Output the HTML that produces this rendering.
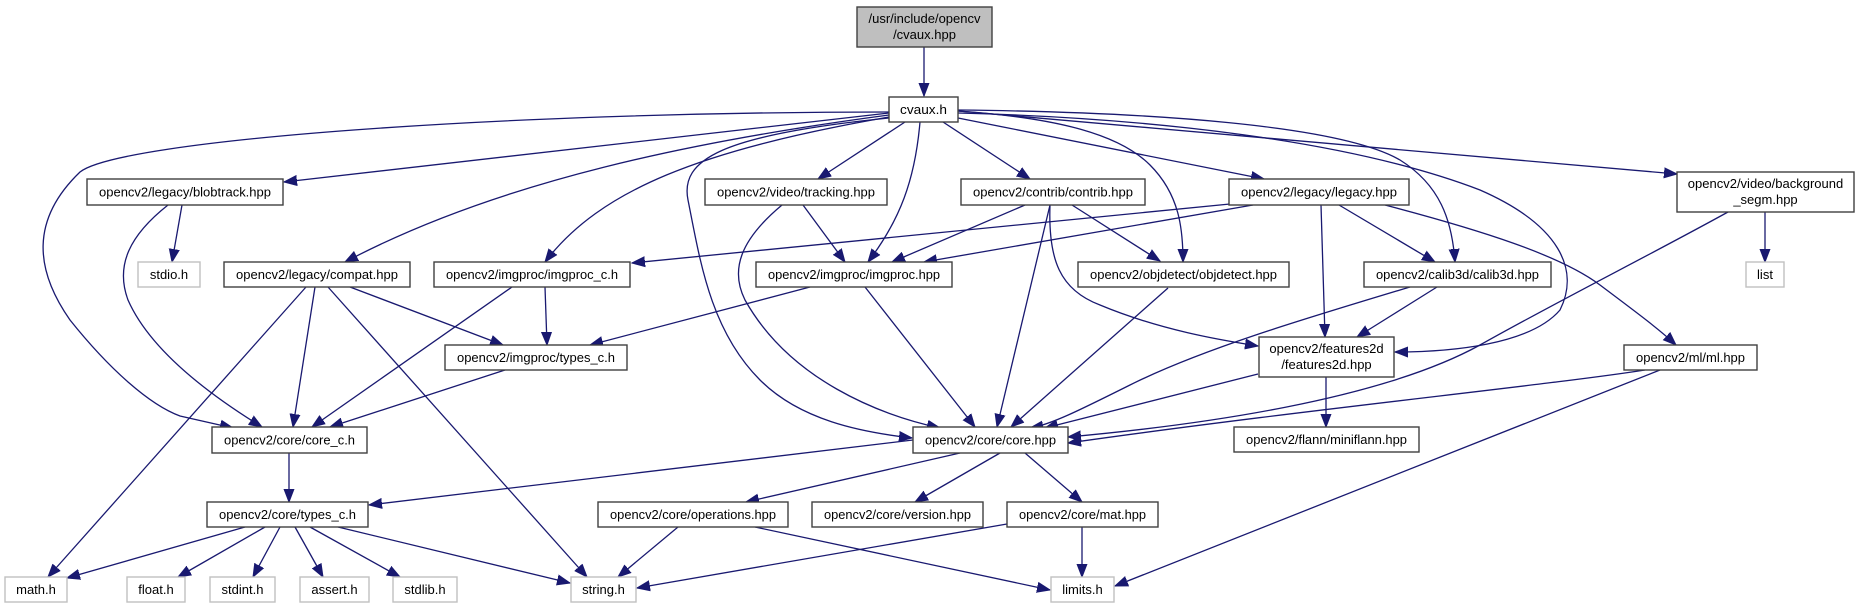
<!DOCTYPE html>
<html><head><meta charset="utf-8"><style>
html,body{margin:0;padding:0;background:#fff;}
svg{display:block;}
text{font-family:"Liberation Sans",Arial,sans-serif;font-size:13px;fill:#000;}
.e{fill:none;stroke:#191970;stroke-width:1.3;marker-end:url(#a);}
.n{fill:#fff;stroke:#404040;stroke-width:1.4;}
.g{fill:#fff;stroke:#c0c0c0;stroke-width:1.4;}
</style></head><body>
<svg width="1859" height="608" viewBox="0 0 1859 608" xmlns="http://www.w3.org/2000/svg">
<defs>
<marker id="a" markerUnits="userSpaceOnUse" markerWidth="14" markerHeight="12" viewBox="0 0 14 12" refX="13" refY="6" orient="auto">
<path d="M0,1 L13,6 L0,11 Z" fill="#191970" stroke="#191970" stroke-width="1"/>
</marker>
</defs>
<!-- edges -->
<path class="e" d="M924,47 L924,96"/>
<path class="e" d="M889,112 C500,112 120,140 80,172 C30,220 35,270 70,320 C110,370 150,405 180,416 L233,428"/>
<path class="e" d="M889,113 L284,182"/>
<path class="e" d="M889,115 C700,140 500,180 345,262"/>
<path class="e" d="M889,117 C700,150 600,190 545,262"/>
<path class="e" d="M889,118 C720,135 680,160 688,200 C700,260 710,330 760,380 C800,420 860,432 912,438"/>
<path class="e" d="M782,205 C740,240 730,270 745,300 C790,380 880,415 940,428"/>
<path class="e" d="M803,205 L845,262"/>
<path class="e" d="M920,122 C915,180 900,220 868,262"/>
<path class="e" d="M905,122 L818,179"/>
<path class="e" d="M943,122 L1030,179"/>
<path class="e" d="M1025,205 L892,262"/>
<path class="e" d="M1253,205 L924,262"/>
<path class="e" d="M1230,204 L632,263"/>
<path class="e" d="M1072,205 L1160,261"/>
<path class="e" d="M958,111 C1060,118 1120,135 1150,165 C1180,195 1183,230 1183,262"/>
<path class="e" d="M1050,205 L997,427"/>
<path class="e" d="M1050,205 C1048,260 1060,290 1100,305 C1160,330 1220,340 1258,346"/>
<path class="e" d="M1168,288 L1011,427"/>
<path class="e" d="M1321,205 L1325,337"/>
<path class="e" d="M1339,205 L1435,262"/>
<path class="e" d="M1385,205 C1480,230 1560,255 1600,285 C1640,315 1660,330 1676,345"/>
<path class="e" d="M958,110 C1150,112 1340,125 1400,160 C1440,185 1452,220 1455,262"/>
<path class="e" d="M958,113 C1150,118 1350,140 1480,190 C1560,225 1580,270 1560,310 C1530,345 1450,352 1395,352"/>
<path class="e" d="M958,118 L1264,179"/>
<path class="e" d="M958,111 L1677,174"/>
<path class="e" d="M1728,212 C1650,255 1560,300 1480,345 C1380,400 1200,425 1068,437"/>
<path class="e" d="M1765,212 L1765,262"/>
<path class="e" d="M1410,287 C1300,320 1200,350 1130,385 C1080,410 1050,425 1030,428"/>
<path class="e" d="M1437,287 L1357,337"/>
<path class="e" d="M1258,374 L1045,428"/>
<path class="e" d="M1326,377 L1326,427"/>
<path class="e" d="M1645,370 C1550,385 1300,410 1068,443"/>
<path class="e" d="M1660,370 L1115,586"/>
<path class="e" d="M545,287 L547,345"/>
<path class="e" d="M512,287 L312,427"/>
<path class="e" d="M350,287 L503,345"/>
<path class="e" d="M315,287 L293,427"/>
<path class="e" d="M306,287 L48,577"/>
<path class="e" d="M328,287 L587,577"/>
<path class="e" d="M810,287 L590,345"/>
<path class="e" d="M865,287 L975,427"/>
<path class="e" d="M505,370 L330,427"/>
<path class="e" d="M182,205 L172,262"/>
<path class="e" d="M168,205 C130,235 115,265 128,300 C150,350 210,395 262,427"/>
<path class="e" d="M289,453 L289,502"/>
<path class="e" d="M913,440 L369,505"/>
<path class="e" d="M960,453 L746,502"/>
<path class="e" d="M1000,453 L915,502"/>
<path class="e" d="M1025,453 L1082,502"/>
<path class="e" d="M678,527 L618,577"/>
<path class="e" d="M755,527 L1050,590"/>
<path class="e" d="M1007,524 L637,588"/>
<path class="e" d="M1082,527 L1082,577"/>
<path class="e" d="M245,527 L67,578"/>
<path class="e" d="M265,527 L178,577"/>
<path class="e" d="M280,527 L253,577"/>
<path class="e" d="M295,527 L323,577"/>
<path class="e" d="M310,527 L400,577"/>
<path class="e" d="M338,527 L570,583"/>
<!-- nodes -->
<rect x="857" y="7" width="135" height="40" fill="#bfbfbf" stroke="#404040" stroke-width="1.4"/>
<text x="924.5" y="23" text-anchor="middle">/usr/include/opencv</text>
<text x="924.5" y="39" text-anchor="middle">/cvaux.hpp</text>

<rect class="n" x="889" y="97" width="69" height="25"/><text x="923.5" y="114" text-anchor="middle" textLength="47" lengthAdjust="spacingAndGlyphs">cvaux.h</text>

<rect class="n" x="87" y="179" width="196" height="26"/><text x="185" y="196.5" text-anchor="middle" textLength="172" lengthAdjust="spacingAndGlyphs">opencv2/legacy/blobtrack.hpp</text>
<rect class="n" x="705" y="179" width="182" height="26"/><text x="796" y="196.5" text-anchor="middle" textLength="158" lengthAdjust="spacingAndGlyphs">opencv2/video/tracking.hpp</text>
<rect class="n" x="961" y="179" width="184" height="26"/><text x="1053" y="196.5" text-anchor="middle" textLength="160" lengthAdjust="spacingAndGlyphs">opencv2/contrib/contrib.hpp</text>
<rect class="n" x="1229" y="179" width="180" height="26"/><text x="1319" y="196.5" text-anchor="middle" textLength="156" lengthAdjust="spacingAndGlyphs">opencv2/legacy/legacy.hpp</text>
<rect class="n" x="1677" y="172" width="177" height="40"/>
<text x="1765.5" y="188" text-anchor="middle">opencv2/video/background</text>
<text x="1765.5" y="204" text-anchor="middle">_segm.hpp</text>

<rect class="g" x="138" y="262" width="62" height="25"/><text x="169" y="279" text-anchor="middle">stdio.h</text>
<rect class="n" x="224" y="262" width="186" height="25"/><text x="317" y="279" text-anchor="middle" textLength="162" lengthAdjust="spacingAndGlyphs">opencv2/legacy/compat.hpp</text>
<rect class="n" x="434" y="262" width="196" height="25"/><text x="532" y="279" text-anchor="middle" textLength="172" lengthAdjust="spacingAndGlyphs">opencv2/imgproc/imgproc_c.h</text>
<rect class="n" x="756" y="262" width="196" height="25"/><text x="854" y="279" text-anchor="middle" textLength="172" lengthAdjust="spacingAndGlyphs">opencv2/imgproc/imgproc.hpp</text>
<rect class="n" x="1078" y="262" width="211" height="25"/><text x="1183.5" y="279" text-anchor="middle" textLength="187" lengthAdjust="spacingAndGlyphs">opencv2/objdetect/objdetect.hpp</text>
<rect class="n" x="1364" y="262" width="187" height="25"/><text x="1457.5" y="279" text-anchor="middle" textLength="163" lengthAdjust="spacingAndGlyphs">opencv2/calib3d/calib3d.hpp</text>
<rect class="g" x="1746" y="262" width="38" height="25"/><text x="1765" y="279" text-anchor="middle">list</text>

<rect class="n" x="445" y="345" width="182" height="25"/><text x="536" y="362" text-anchor="middle" textLength="158" lengthAdjust="spacingAndGlyphs">opencv2/imgproc/types_c.h</text>
<rect class="n" x="1259" y="337" width="135" height="40"/>
<text x="1326.5" y="353" text-anchor="middle">opencv2/features2d</text>
<text x="1326.5" y="369" text-anchor="middle">/features2d.hpp</text>
<rect class="n" x="1624" y="345" width="133" height="25"/><text x="1690.5" y="362" text-anchor="middle" textLength="109" lengthAdjust="spacingAndGlyphs">opencv2/ml/ml.hpp</text>

<rect class="n" x="212" y="427" width="155" height="26"/><text x="289.5" y="444.5" text-anchor="middle" textLength="131" lengthAdjust="spacingAndGlyphs">opencv2/core/core_c.h</text>
<rect class="n" x="913" y="427" width="155" height="26"/><text x="990.5" y="444.5" text-anchor="middle" textLength="131" lengthAdjust="spacingAndGlyphs">opencv2/core/core.hpp</text>
<rect class="n" x="1234" y="427" width="185" height="25"/><text x="1326.5" y="444" text-anchor="middle" textLength="161" lengthAdjust="spacingAndGlyphs">opencv2/flann/miniflann.hpp</text>

<rect class="n" x="207" y="502" width="161" height="25"/><text x="287.5" y="519" text-anchor="middle" textLength="137" lengthAdjust="spacingAndGlyphs">opencv2/core/types_c.h</text>
<rect class="n" x="598" y="502" width="190" height="25"/><text x="693" y="519" text-anchor="middle" textLength="166" lengthAdjust="spacingAndGlyphs">opencv2/core/operations.hpp</text>
<rect class="n" x="812" y="502" width="171" height="25"/><text x="897.5" y="519" text-anchor="middle" textLength="147" lengthAdjust="spacingAndGlyphs">opencv2/core/version.hpp</text>
<rect class="n" x="1007" y="502" width="151" height="25"/><text x="1082.5" y="519" text-anchor="middle" textLength="127" lengthAdjust="spacingAndGlyphs">opencv2/core/mat.hpp</text>

<rect class="g" x="5" y="577" width="62" height="25"/><text x="36" y="594" text-anchor="middle">math.h</text>
<rect class="g" x="127" y="577" width="58" height="25"/><text x="156" y="594" text-anchor="middle">float.h</text>
<rect class="g" x="210" y="577" width="65" height="25"/><text x="242.5" y="594" text-anchor="middle">stdint.h</text>
<rect class="g" x="300" y="577" width="69" height="25"/><text x="334.5" y="594" text-anchor="middle">assert.h</text>
<rect class="g" x="393" y="577" width="64" height="25"/><text x="425" y="594" text-anchor="middle">stdlib.h</text>
<rect class="g" x="571" y="577" width="65" height="25"/><text x="603.5" y="594" text-anchor="middle">string.h</text>
<rect class="g" x="1051" y="577" width="63" height="25"/><text x="1082.5" y="594" text-anchor="middle">limits.h</text>
</svg>
</body></html>
